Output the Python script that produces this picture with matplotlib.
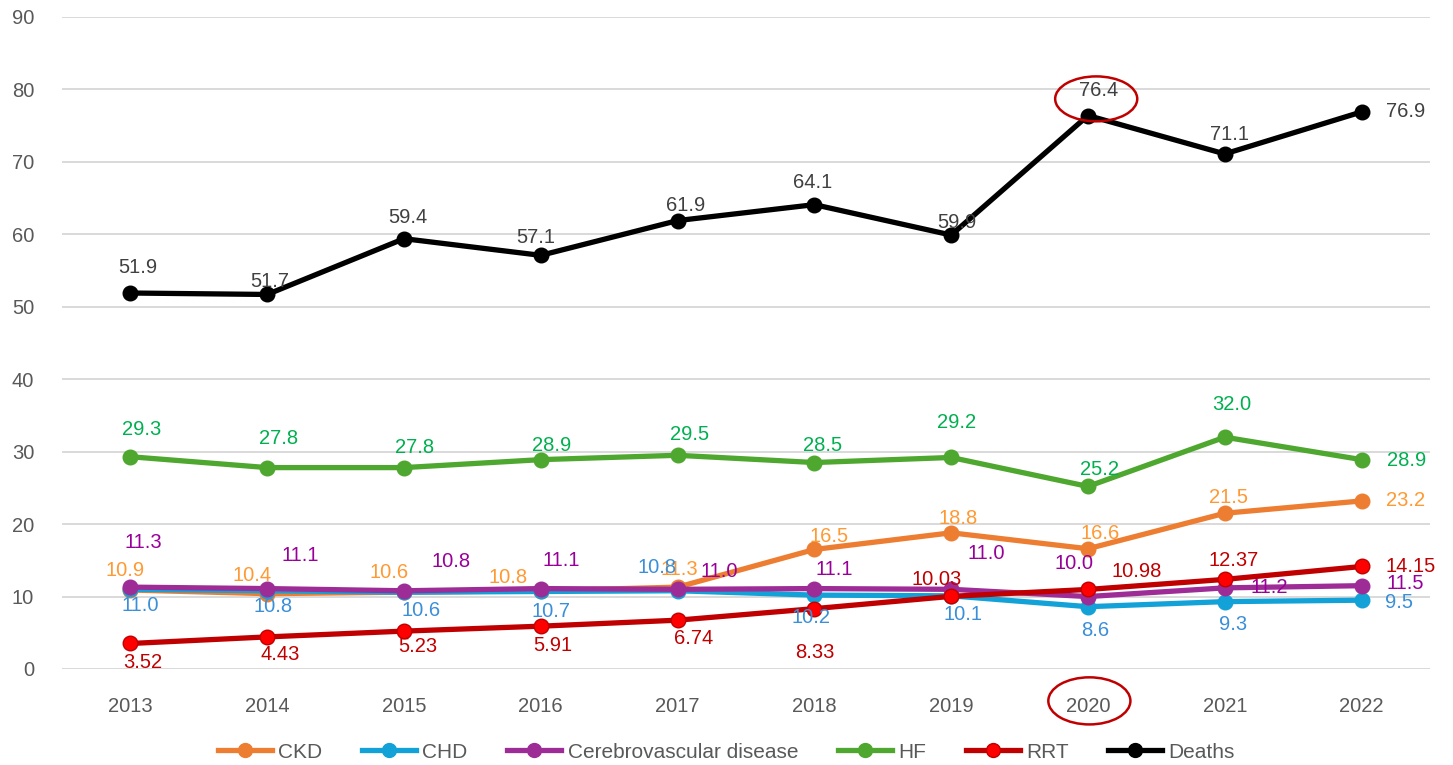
import matplotlib.pyplot as plt
from matplotlib.patches import Ellipse
from matplotlib.lines import Line2D

plt.rcParams['font.family'] = ['Liberation Sans', 'DejaVu Sans']

years = ['2013', '2014', '2015', '2016', '2017', '2018', '2019', '2020', '2021', '2022']

ckd = [10.9, 10.4, 10.6, 10.8, 11.3, 16.5, 18.8, 16.6, 21.5, 23.2]
chd = [11.0, 10.8, 10.6, 10.7, 10.8, 10.2, 10.1, 8.6, 9.3, 9.5]
cerebro = [11.3, 11.1, 10.8, 11.1, 11.0, 11.1, 11.0, 10.0, 11.2, 11.5]
hf = [29.3, 27.8, 27.8, 28.9, 29.5, 28.5, 29.2, 25.2, 32.0, 28.9]
rrt = [3.52, 4.43, 5.23, 5.91, 6.74, 8.33, 10.03, 10.98, 12.37, 14.15]
deaths = [51.9, 51.7, 59.4, 57.1, 61.9, 64.1, 59.9, 76.4, 71.1, 76.9]

# label offsets in pixels (dx, dy downwards)
ckd_off = [(-5, -20), (-15, -18), (-15, -20), (-33, -13), (2, -18),
           (15, -13), (7, -14), (12, -15), (4, -16), (44, 0)]
chd_off = [(10, 16), (6, 16), (17, 18), (10, 20), (-21, -23),
           (-3, 22), (12, 19), (7, 24), (8, 23), (37, 2)]
cer_off = [(13, -45), (33, -33), (47, -29), (20, -28), (42, -18),
           (20, -19), (35, -36), (-14, -33), (44, 0), (44, -2)]
hf_off = [(11, -27), (11, -29), (11, -20), (11, -14), (12, -21),
          (8, -17), (5, -35), (11, -17), (7, -33), (45, 1)]
rrt_off = [(12, 19), (13, 18), (14, 15), (12, 19), (16, 18),
           (0, 44), (-15, -17), (49, -18), (9, -19), (49, 0)]
dth_off = [(7, -26), (3, -13), (4, -21), (-5, -18), (8, -15),
           (-2, -22), (6, -13), (11, -25), (5, -19), (44, 0)]

series = [
    ('CKD', ckd, '#ED7D31', '#ED7D31', '#FF9933', ckd_off, '{:.1f}'),
    ('CHD', chd, '#12A2D8', '#12A2D8', '#3A8FD9', chd_off, '{:.1f}'),
    ('Cerebrovascular disease', cerebro, '#9E2C96', '#9E2C96', '#990099', cer_off, '{:.1f}'),
    ('HF', hf, '#4EA72E', '#4EA72E', '#00B050', hf_off, '{:.1f}'),
    ('RRT', rrt, '#C00000', '#FF0000', '#C00000', rrt_off, '{:.2f}'),
    ('Deaths', deaths, '#000000', '#000000', '#404040', dth_off, '{:.1f}'),
]

fig = plt.figure(figsize=(14.53, 7.65), dpi=100)
ax = fig.add_axes([62 / 1453, 1 - 669 / 765, (1430 - 62) / 1453, (669 - 17) / 765])

x = list(range(len(years)))
handles = []
for name, vals, col, mface, lcol, offs, fmt in series:
    ax.plot(x, vals, color=col, lw=3.8, marker='o', ms=10.5,
            mfc=mface, mec=col, mew=1, zorder=3, solid_capstyle='round')
    for i, v in enumerate(vals):
        dx, dy = offs[i]
        ax.annotate(fmt.format(v), (i, v), xytext=(dx, -dy), textcoords='offset pixels',
                    ha='center', va='center', fontsize=14.5, color=lcol, zorder=5)
    handles.append(Line2D([], [], color=col, lw=3.8, marker='o', ms=10,
                          mfc=mface, mec=col, label=name))

ax.set_xlim(-0.5, 9.5)
ax.set_ylim(0, 90)
ax.set_yticks(range(0, 91, 10))
ax.set_xticks(x)
ax.set_xticklabels(years)
ax.grid(axis='y', color='#D9D9D9', lw=1.4)
ax.set_axisbelow(True)
for s in ax.spines.values():
    s.set_visible(False)
ax.tick_params(length=0, labelsize=14.5, labelcolor='#595959')
ax.tick_params(axis='y', pad=20)
ax.tick_params(axis='x', pad=20)

# red ellipses highlighting 2020
ax.add_patch(Ellipse((7.06, 78.7), 0.6, 6.2, fill=False, ec='#C00000', lw=1.8, zorder=6))
ax.add_patch(Ellipse((7.01, -4.4), 0.6, 6.5, fill=False, ec='#C00000', lw=1.8,
                     zorder=6, clip_on=False))

leg = fig.legend(handles=handles, loc='center', bbox_to_anchor=(0.5, 1 - 752 / 765),
                 ncol=6, frameon=False, fontsize=15, handlelength=2.6,
                 columnspacing=1.9, handletextpad=0.3)
for t in leg.get_texts():
    t.set_color('#595959')

fig.savefig('out.png', dpi=100)
